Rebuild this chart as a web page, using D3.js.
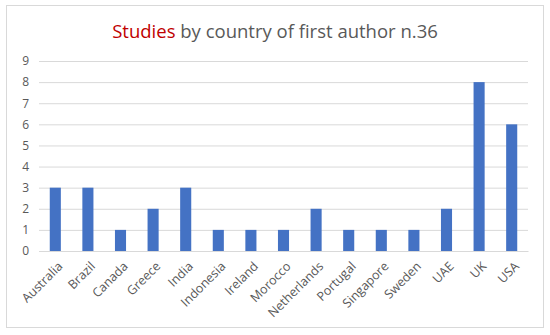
<!DOCTYPE html>
<html><head><meta charset="utf-8">
<script src="https://cdn.jsdelivr.net/npm/d3@7"></script>
<style>body{margin:0;background:#fff;}svg{display:block;}</style>
</head><body>
<script>
const countries = ["Australia","Brazil","Canada","Greece","India","Indonesia","Ireland","Morocco","Netherlands","Portugal","Singapore","Sweden","UAE","UK","USA"];
const studies = [3,3,1,2,3,1,1,1,2,1,1,1,2,8,6];
const yTicks = [0,1,2,3,4,5,6,7,8,9];

const W = 550, H = 335;
const svg = d3.select("body").append("svg").attr("width", W).attr("height", H);
svg.append("rect").attr("x",6.5).attr("y",5.5).attr("width",537).attr("height",322)
  .attr("fill","#fff").attr("stroke","#d9d9d9").attr("stroke-width",1);

const font = "Open Sans, Liberation Sans, sans-serif";
const mLeft = 39, mRight = 528, mTop = 61, mBottom = 251;

const x = d3.scaleBand().domain(countries).range([mLeft, mRight]).paddingInner(0.66).paddingOuter(0.33);
const y = d3.scaleLinear().domain([0, 9]).range([mBottom, mTop]);

const yAxis = svg.append("g").attr("transform", `translate(${mLeft},0)`)
  .call(d3.axisLeft(y).tickValues(yTicks).tickSize(-(mRight-mLeft)).tickPadding(10).tickFormat(d3.format("d")));
yAxis.select(".domain").remove();
yAxis.selectAll("line").attr("stroke","#d9d9d9");
yAxis.selectAll("text").attr("fill","#595959").style("font-family",font).style("font-size","12px");

svg.append("g").selectAll("rect").data(countries).join("rect")
  .attr("x", d => x(d)).attr("width", x.bandwidth())
  .attr("y", (d,i) => y(studies[i])).attr("height", (d,i) => y(0) - y(studies[i]))
  .attr("fill", "#4472c4");

const xAxis = svg.append("g").attr("transform", `translate(0,${mBottom})`)
  .call(d3.axisBottom(x).tickSize(0).tickFormat(""));
xAxis.select(".domain").attr("stroke","#d9d9d9");

svg.append("g").selectAll("text").data(countries).join("text")
  .attr("transform", d => `translate(${x(d) + x.bandwidth()/2 + 5},${mBottom + 13}) rotate(-45)`)
  .attr("text-anchor","end").attr("dy","0.35em")
  .attr("fill","#595959").style("font-family",font).style("font-size","12.5px")
  .text(d => d);

const title = svg.append("text").attr("x", 275).attr("y", 38).attr("text-anchor","middle")
  .style("font-family",font).style("font-size","18.5px").attr("fill","#595959");
title.append("tspan").attr("fill","#c00000").text("Studies");
title.append("tspan").text(" by country of first author n.36");
</script>
</body></html>
